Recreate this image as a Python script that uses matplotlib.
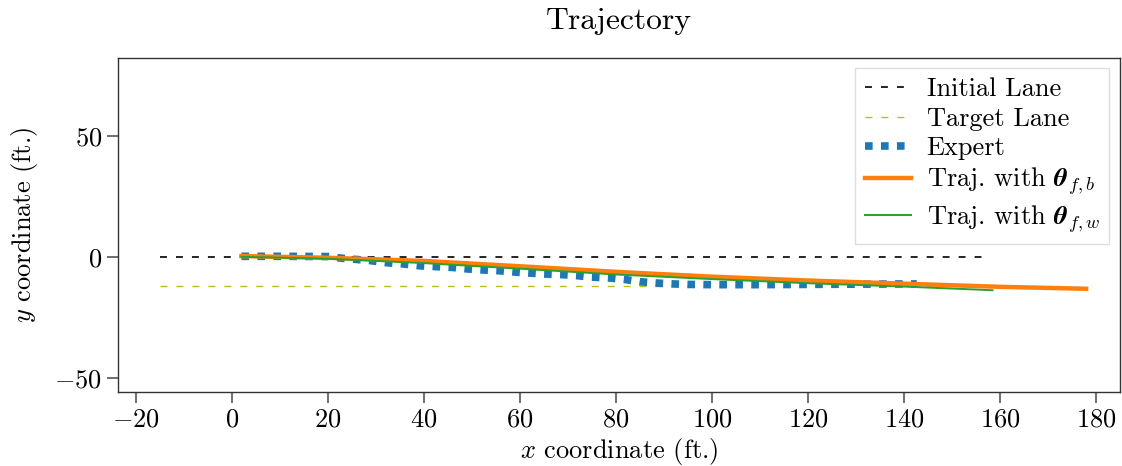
import matplotlib
matplotlib.use("Agg")
import matplotlib.pyplot as plt
import numpy as np

plt.rcParams["font.family"] = "serif"
plt.rcParams["font.serif"] = ["cmr10"]
plt.rcParams["mathtext.fontset"] = "cm"
plt.rcParams["axes.formatter.use_mathtext"] = True
plt.rcParams["font.size"] = 19
plt.rcParams["lines.scale_dashes"] = False

# lanes (ft.)
lane_x = [-15, 157]
initial_lane_y = [0, 0]
target_lane_y = [-12, -12]

# expert trajectory
expert_x = [2, 10, 20, 22.5, 26, 29, 32, 36, 39, 42, 46, 49, 52, 56, 59, 62, 65, 69, 72,
            75, 79, 82, 85, 89, 92, 95, 100, 110, 120, 130, 142.7]
expert_y = [0.2, 0.2, 0.1, -0.5, -1.1, -1.6, -2.4, -3.0, -3.7, -4.0, -4.4, -5.0, -5.4,
            -5.8, -6.3, -6.7, -7.1, -7.4, -7.8, -8.4, -8.8, -9.4, -10.3, -10.9, -11.2,
            -11.4, -11.5, -11.5, -11.4, -11.3, -11.2]

# trajectory with theta_{f,b}
best_x = [2, 20, 40, 60, 80, 100, 120, 140, 160, 178]
best_y = [0.3, -0.4, -1.7, -3.9, -6.2, -8.2, -9.8, -11.1, -12.4, -13.2]

# trajectory with theta_{f,w}
worst_x = [2, 20, 40, 60, 80, 100, 120, 140, 158.5]
worst_y = [0.0, -0.8, -2.6, -4.9, -7.3, -9.2, -10.9, -12.3, -13.8]

fig = plt.figure(figsize=(11.22, 4.66), dpi=100)
ax = fig.add_axes([0.105, 0.159, 0.893, 0.717])

ax.plot(lane_x, initial_lane_y, color="black", lw=1.2, linestyle=(0, (5, 6.5)),
        label="Initial Lane")
ax.plot(lane_x, target_lane_y, color="#bcbd22", lw=1.0, linestyle=(0, (5, 6.5)),
        label="Target Lane")
ax.plot(expert_x, expert_y, color="#1f77b4", lw=5.5, linestyle=(0, (5.5, 6)),
        label="Expert")
ax.plot(best_x, best_y, color="#ff7f0e", lw=3.2, label=r"Traj. with $\boldsymbol{\theta}_{f,b}$")
ax.plot(worst_x, worst_y, color="#2ca02c", lw=1.4, label=r"Traj. with $\boldsymbol{\theta}_{f,w}$")

ax.set_xlim(-23.75, 185)
ax.set_ylim(-55.8, 82.2)
ax.set_xticks(np.arange(-20, 181, 20))
ax.set_yticks([-50, 0, 50])
ax.tick_params(direction="out", length=8, width=1.2, color="#555555")
for s in ax.spines.values():
    s.set_color("#333333")
    s.set_linewidth(1.0)

ax.set_xlabel(r"$x$ coordinate (ft.)", labelpad=3)
ax.set_ylabel(r"$y$ coordinate (ft.)", labelpad=10)
ax.set_title("Trajectory", pad=21)

leg = ax.legend(loc="upper right", handlelength=1.75, fancybox=False,
                edgecolor="#dddddd", framealpha=1.0, borderaxespad=0.4,
                labelspacing=0.22, handletextpad=0.6, borderpad=0.35)

fig.savefig("out.png", dpi=100)
